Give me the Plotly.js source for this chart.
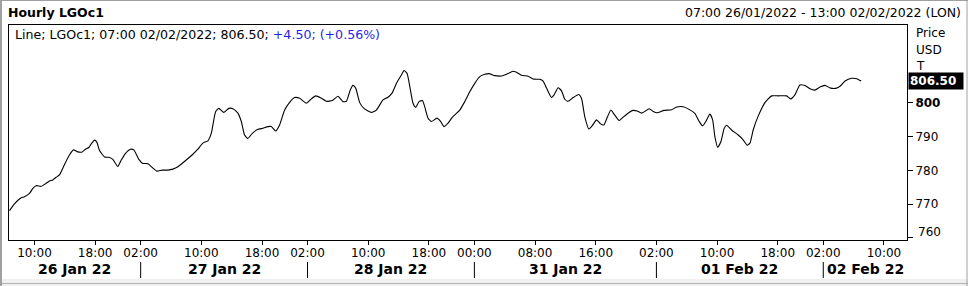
<!DOCTYPE html>
<html>
<head>
<meta charset="utf-8">
<script src="https://cdn.plot.ly/plotly-3.0.1.min.js"></script>
<style>
  html, body { margin: 0; padding: 0; background: #fff; }
  #chart { width: 968px; height: 286px; }
</style>
</head>
<body>
<div id="chart"></div>
<script>
// ---- data (x = trading-hour bar index from 07:00 26/01/2022) ----
const barIndex = [
  -0.30,0.36,1.25,1.68,2.34,2.78,3.22,3.88,4.54,4.98,5.41,5.86,6.30,6.96,7.61,8.15,8.71,9.29,9.73,10.16,10.48,10.92,11.22,11.58,12.24,12.80,13.33,13.99,14.44,15.01,15.66,16.10,16.76,17.29,17.95,18.61,19.13,19.85,20.59,21.25,21.91,
  23.01,23.88,24.54,25.20,25.86,26.31,26.88,27.31,27.97,28.63,29.16,29.82,30.27,30.70,31.14,31.72,32.46,33.12,33.78,34.23,34.79,35.32,35.98,36.64,37.30,37.96,38.84,39.50,40.07,40.82,41.48,42.27,43.01,43.67,44.12,44.65,44.99,45.35,45.88,46.44,
  47.42,48.08,48.95,49.61,50.14,50.72,51.38,51.72,52.12,52.56,52.91,53.26,53.70,54.15,54.45,54.89,55.34,56.07,56.56,57.00,57.53,58.11,59.07,59.73,60.39,61.05,61.71,62.37,62.93,63.69,64.57,65.23,66.10,66.55,67.21,68.08,68.74,69.62,
  70.06,70.51,71.17,71.51,72.04,72.49,72.92,73.36,74.02,74.77,75.12,75.56,76.09,76.52,77.10,77.63,78.07,78.55,78.99,79.42,80.08,80.61,81.40,81.93,82.46,83.04,83.48,84.05,84.58,85.11,85.99,87.00,87.66,88.53,89.32,90.07,90.64,91.09,91.52,92.05,92.41,92.71,93.07,93.50,93.94,
  94.25,94.91,95.78,96.36,96.97,97.33,97.76,98.42,99.31,100.19,101.06,102.17,102.70,103.26,103.92,104.58,105.24,105.90,106.56,107.22,107.97,108.76,109.29,109.87,110.75,111.42,112.00
];
const price = [
  768.1,770.1,771.9,772.2,773.2,774.7,775.5,775.3,776.2,776.9,777.2,778.0,778.7,781.8,784.6,786.1,785.5,785.5,786.3,786.8,787.9,789.0,788.4,785.9,784.0,783.9,783.3,781.2,783.1,785.1,786.3,786.1,783.3,782.1,782.0,780.7,779.8,780.1,780.1,780.4,781.1,
  783.1,784.8,786.3,788.1,788.8,791.0,797.4,798.4,797.2,798.4,798.3,797.0,794.5,790.5,789.5,791.0,792.2,792.5,793.0,793.0,791.7,793.5,797.9,800.2,801.6,801.4,799.9,801.2,802.1,801.4,800.5,800.7,802.0,800.4,800.5,803.9,805.2,804.4,800.1,798.4,
  797.2,797.9,800.9,801.7,802.9,805.8,808.3,809.6,808.8,803.9,799.9,798.7,800.4,800.7,798.9,795.5,794.5,795.5,794.5,793.0,794.0,795.8,797.9,800.4,803.3,805.8,807.8,808.5,808.7,808.1,808.0,808.5,809.4,809.1,808.2,807.9,807.1,807.0,
  806.5,804.4,801.6,802.4,804.5,803.6,801.1,800.5,801.6,802.5,801.4,795.9,792.3,793.2,795.0,793.8,793.5,795.9,797.9,796.7,794.8,795.8,797.2,797.8,797.6,797.0,797.5,798.3,797.5,797.1,797.8,798.0,798.8,798.9,798.1,796.9,794.5,793.2,794.5,796.7,795.0,790.0,786.9,788.5,792.5,
  793.4,792.0,790.5,789.3,787.5,788.1,792.0,796.1,800.1,802.1,802.1,802.1,801.2,802.4,805.3,805.2,804.2,803.8,804.7,805.2,804.4,804.4,805.1,806.5,807.3,807.2,806.5
];

const timeTickIndex = [3, 11, 17, 25, 33, 39, 47, 55, 61, 69, 77, 85, 93, 101, 107, 115];
const timeTickLabels = ['10:00','18:00','02:00','10:00','18:00','02:00','10:00','18:00','00:00','08:00','16:00','02:00','10:00','18:00','02:00','10:00'];
const daySeparatorIndex = [17, 39, 61, 85, 107];
const dayLabels = ['26 Jan 22','27 Jan 22','28 Jan 22','31 Jan 22','01 Feb 22','02 Feb 22'];
const priceTicks = [760, 770, 780, 790, 800];
const lastTime = '07:00 02/02/2022';
const lastPrice = 806.50;
const change = 4.50;
const changePct = 0.56;
const rangeText = '07:00 26/01/2022 - 13:00 02/02/2022 (LON)';
const chartTitle = 'Hourly LGOc1';
const ric = 'LGOc1';

// ---- layout helpers ----
const FONT = 'DejaVu Sans, Verdana, sans-serif';
const xRange = [-0.36, 118.04];
const yRange = [759.4, 823.1];
const W = 968, H = 286, ML = 9, MR = 61, MT = 25, MB = 46;
const PW = W - ML - MR, PH = H - MT - MB;
const px = v => (v - ML) / PW;          // pixel x -> paper
const py = v => (H - MB - v) / PH;      // pixel y -> paper

const bounds = [xRange[0]].concat(daySeparatorIndex, [xRange[1]]);
const annotations = [];
dayLabels.forEach((t, i) => {
  annotations.push({
    xref: 'x', yref: 'paper', x: (bounds[i] + bounds[i + 1]) / 2, y: py(269),
    text: '<b>' + t + '</b>', showarrow: false, xanchor: 'center', yanchor: 'middle',
    font: { family: FONT, size: 14, color: '#000' }
  });
});
annotations.push({
  xref: 'paper', yref: 'paper', x: px(6), y: py(13), xanchor: 'left', yanchor: 'middle',
  text: '<b>' + chartTitle + '</b>', showarrow: false, font: { family: FONT, size: 12.5, color: '#000' }
});
annotations.push({
  xref: 'paper', yref: 'paper', x: px(963), y: py(13), xanchor: 'right', yanchor: 'middle',
  text: rangeText, showarrow: false, font: { family: FONT, size: 12.5, color: '#000' }
});
annotations.push({
  xref: 'paper', yref: 'paper', x: px(13), y: py(35), xanchor: 'left', yanchor: 'middle',
  text: 'Line; ' + ric + '; ' + lastTime + '; ' + lastPrice.toFixed(2) + '; ' +
        '<span style="color:#1f1fe6">+' + change.toFixed(2) + '; (+' + changePct.toFixed(2) + '%)</span>',
  showarrow: false, font: { family: FONT, size: 12.6, color: '#000' }
});
['Price', 'USD', 'T'].forEach((t, i) => {
  annotations.push({
    xref: 'paper', yref: 'paper', x: px(914), y: py([33, 50, 66][i]), xanchor: 'left', yanchor: 'middle',
    text: t, showarrow: false, font: { family: FONT, size: 12, color: '#000' }
  });
});
annotations.push({
  xref: 'paper', yref: 'y', x: px(908), y: price[price.length - 1], xanchor: 'left', yanchor: 'middle',
  text: '<b>' + lastPrice.toFixed(2) + '</b>', showarrow: false, bgcolor: '#000',
  width: 52, height: 14, align: 'left', borderpad: 1,
  font: { family: FONT, size: 12, color: '#fff' }
});
annotations.push({
  xref: 'paper', yref: 'y', x: px(916), y: priceTicks[0], xanchor: 'left', yanchor: 'middle', yshift: 6,
  text: String(priceTicks[0]), showarrow: false, font: { family: FONT, size: 12, color: '#000' }
});

const shapes = daySeparatorIndex.map(s => ({
  type: 'line', xref: 'x', yref: 'paper', x0: s, x1: s, y0: py(262), y1: py(278),
  line: { color: '#000', width: 1 }
}));
shapes.push({ type: 'rect', xref: 'paper', yref: 'paper', x0: px(0), x1: px(968), y0: py(286), y1: py(279),
  fillcolor: '#f0f0f0', line: { width: 0 }, layer: 'below' });
shapes.push({ type: 'line', xref: 'paper', yref: 'paper', x0: px(0), x1: px(968), y0: py(283.5), y1: py(283.5),
  line: { color: '#b4b4b4', width: 1 } });
shapes.push({ type: 'line', xref: 'paper', yref: 'paper', x0: px(1), x1: px(1), y0: py(0), y1: py(286),
  line: { color: '#a0a0a0', width: 2 } });
shapes.push({ type: 'line', xref: 'paper', yref: 'paper', x0: px(967), x1: px(967), y0: py(0), y1: py(286),
  line: { color: '#a0a0a0', width: 1 } });
shapes.push({ type: 'line', xref: 'paper', yref: 'paper', x0: px(0), x1: px(968), y0: py(0.5), y1: py(0.5),
  line: { color: '#a0a0a0', width: 1 } });

const trace = {
  x: barIndex, y: price, type: 'scatter', mode: 'lines',
  line: { color: '#000', width: 1.1, shape: 'spline', smoothing: 0.5 },
  hoverinfo: 'skip'
};

const layout = {
  width: W, height: H,
  margin: { l: ML, r: MR, t: MT, b: MB, pad: 0 },
  paper_bgcolor: '#fff', plot_bgcolor: '#fff',
  showlegend: false,
  xaxis: {
    range: xRange, tickmode: 'array', tickvals: timeTickIndex, ticktext: timeTickLabels,
    ticks: 'outside', ticklen: 4, tickcolor: '#000', tickwidth: 1, ticklabelstandoff: -2,
    showgrid: false, zeroline: false, showline: true, linecolor: '#000', linewidth: 1, mirror: true,
    tickfont: { family: FONT, size: 12, color: '#000' }, fixedrange: true
  },
  yaxis: {
    side: 'right', range: yRange, tickmode: 'array', tickvals: priceTicks,
    ticktext: priceTicks.map(v => v === 800 ? '<b>800</b>' : (v === priceTicks[0] ? '' : String(v))),
    ticks: 'outside', ticklen: 5, tickcolor: '#000', tickwidth: 1,
    showgrid: false, zeroline: false, showline: true, linecolor: '#000', linewidth: 1, mirror: true,
    tickfont: { family: FONT, size: 12, color: '#000' }, fixedrange: true
  },
  annotations: annotations,
  shapes: shapes
};

Plotly.newPlot('chart', [trace], layout, { staticPlot: true, displayModeBar: false });
</script>
</body>
</html>
